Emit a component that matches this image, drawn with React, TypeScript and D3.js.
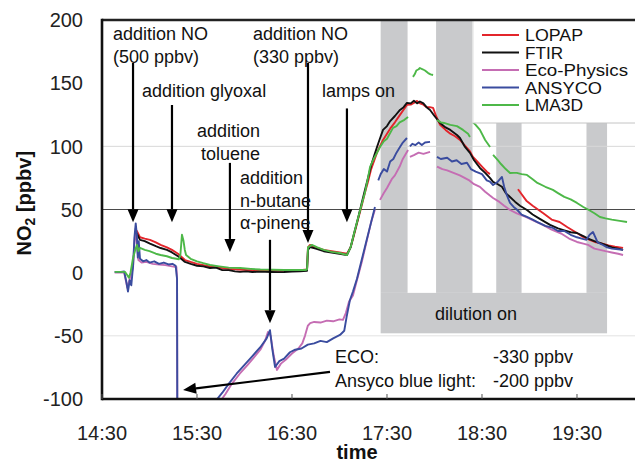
import * as d3 from 'd3';

const W = 635;
const H = 464;
const FONT = 'Liberation Sans, Arial, sans-serif';

// time axis in minutes after 14:30
const tickMinutes = [0, 60, 120, 180, 240, 300];
const tickLabels = ['14:30', '15:30', '16:30', '17:30', '18:30', '19:30'];
const yTicks = [-100, -50, 0, 50, 100, 150, 200];

type P = [number, number] | null;

const lopap: P[] = [
  [20.8, 31], [22, 33], [24, 28], [27, 27], [30.3, 26], [34, 24], [37, 22], [41, 20], [44.2, 18], [48, 15], [52.4, 10],
  [56, 8.5], [60, 7], [64, 6], [68.2, 5], [74, 4], [80, 3], [86, 2.5], [92, 2], [98, 2], [103, 1.5], [110, 1.5],
  [115, 1.5], [120, 2], [125, 2], [129.5, 2.5], [130.1, 20], [131.4, 22], [135, 20], [140, 18], [145, 17], [150, 16],
  [154.7, 15], [157, 20], [159, 29], [161.7, 42], [164, 53], [166, 63], [168, 72], [170, 82], [172, 89], [173.7, 95],
  [175.5, 100], [177.5, 105], [180, 110], [182, 114], [185, 119], [188.2, 124.9], [190.5, 129], [192.6, 132.8],
  [195, 133], [197, 134.4], [199, 136], [200.8, 134], [203, 133], [205, 131], [207, 131], [209.1, 130.4], [211, 124],
  [213.5, 117], [217, 113], [220, 110], [223, 108], [226.1, 105.1], [229, 101], [232.4, 96], [234.3, 91.6], [237, 88],
  [240, 84], [243.2, 79.7], [245, 78],
  null,
  [262.7, 66], [264, 63.9], [268, 57], [272, 53], [278.5, 47.3], [284, 42], [289, 40.1], [294, 36], [300, 31.4],
  [303.8, 28.3], [308, 26], [312, 24], [316, 23], [320, 21.5], [324, 20.5], [329.1, 19.6],
];

const ftir: P[] = [
  [20.8, 29], [22, 31], [24, 26], [27, 25], [30.3, 23], [34, 21], [37, 19.5], [41, 18], [44.2, 16], [48, 13], [50, 11],
  [52.4, 8.5], [56, 7], [60, 5.5], [64, 5], [68.2, 3.7], [72, 4], [76, 2], [80, 2], [84, 1], [87.2, 0.6], [91, 1],
  [95, 0.5], [99, 0.8], [103, 0.6], [107, 0.5], [111, 0.4], [115, 0.5], [120, 0.8], [125, 1], [129.5, 1.5], [130.1, 18],
  [131.4, 20.3], [135, 19], [140, 17], [145, 16], [150, 15], [154.7, 14], [157, 20], [159, 30], [161.7, 43], [164, 55],
  [166, 65], [168, 75], [170, 85], [172, 93], [173.7, 99.5], [175.5, 106], [177.5, 113], [180, 116], [182, 120],
  [185, 124], [188.2, 128.8], [190.5, 131], [192.6, 134.4], [195, 134], [197, 136], [199, 134], [200.8, 135.5],
  [203, 134], [205, 131], [207.2, 128.8], [210, 124], [213.5, 118.5], [217, 115], [220, 113], [224.2, 109],
  [226.1, 106.6], [229, 100], [232.4, 94.8], [235, 89], [238.7, 82.9], [242, 79], [245, 75], [247, 71.8], [250, 70],
  [252.6, 68], [255, 63], [257.7, 59.9], [261, 56], [264, 53], [268.4, 49.6], [272, 46], [276, 43], [280, 40],
  [283, 37.8], [288, 35], [292, 33.5], [296, 32], [300, 31.4], [304, 29], [307, 27], [311, 25], [314.5, 23.5],
  [318, 22], [322, 20], [326, 19], [329.1, 18],
];

const ecoPhysics: P[] = [
  [8, 0], [12, 0], [14, 0], [16, -12], [17.5, -5], [19.6, 4], [20.5, 25], [21.3, 35], [22.2, 20], [23, 10], [25, 8],
  [28, 8.5], [32, 7], [36, 6.5], [40, 6], [44.2, 5], [47, 4.5], [47.4, -5], [47.6, -130],
  null,
  [74, -103], [78, -96], [82, -88], [87, -80], [92, -73], [96, -67], [100, -61], [103, -54], [104.8, -47], [106.5, -50],
  [108.5, -66], [110.5, -77], [113, -72], [116, -69], [120, -64], [124, -60], [126.5, -56], [128.2, -50], [130, -42],
  [131.5, -40], [134, -39], [138, -39.5], [142, -38], [146, -38.5], [150, -37], [152.2, -37.4], [154, -32], [156, -23],
  [158.5, -18], [161, -6], [164, 8], [167, 24], [170, 40], [172.4, 50],
  null,
  [175.6, 57.6], [178, 63], [180, 67], [183, 74], [185, 77], [188, 84], [190, 90], [193.3, 97.1],
  null,
  [194.5, 91.6], [197, 93], [200, 95], [203, 94], [207.2, 95.6],
  null,
  [211.6, 84], [215, 82], [218, 81], [222, 79], [226, 77], [229, 75], [232, 73], [235, 70], [238.7, 67.9], [242, 64],
  [245, 61], [247, 59.1], [251, 56], [254, 53], [257.7, 49.6], [262, 47], [268, 44], [273, 41], [278.5, 37.8],
  [284, 34], [290, 31], [295, 27], [300, 24.3], [304, 23], [307, 22], [311, 19], [314.5, 18], [318, 17], [322, 16],
  [326, 15], [329.1, 14],
];

const ansyco: P[] = [
  [8, 0.6], [12, 0.5], [14, 1], [15.5, -8], [16.4, -15], [17.5, -6], [18.5, -10], [19.6, 5], [20.5, 28], [21.3, 39],
  [22, 30], [22.6, 12], [23.2, 25], [24, 11], [26, 9], [28, 10], [30, 8], [33, 9], [36, 7], [39, 8], [42, 6.5],
  [44.5, 7], [46.5, 5.5], [47.4, -5], [47.6, -130],
  null,
  [71.5, -102], [76, -95], [80, -88], [85, -80], [90, -73], [95, -66], [100, -59], [104, -52], [106.1, -45.5],
  [107.5, -60], [109.3, -74.7], [112, -70], [115, -68], [118.7, -63], [122, -61], [126, -60], [130, -57], [134, -56],
  [138, -54], [142, -55], [146, -52], [150.3, -49.3], [153, -46], [154.5, -35], [156.6, -21.6], [158.5, -15],
  [161, -5], [164, 10], [167, 25], [170, 40], [172.4, 52],
  null,
  [174.5, 73], [176, 78], [178, 82], [180, 80], [182, 88], [184, 90], [186, 95], [188, 99], [190, 103], [192.6, 106.6],
  null,
  [194.5, 100], [196, 102], [198, 101], [200, 103], [202, 101], [204, 103], [207.2, 103.5],
  null,
  [211.6, 91.6], [214, 90], [218, 91], [221, 88], [224, 89], [227, 86], [230.5, 87], [233, 82], [236, 80], [240, 78],
  [243, 73], [245, 72], [247, 69.4], [250, 72], [252.6, 75.8], [254, 68], [255.5, 62], [257.7, 55.2], [260, 52],
  [262, 50], [265, 46], [268.4, 44.1], [272, 42], [275, 40], [280, 37], [284.8, 35.4], [288, 33], [292, 33], [296, 30],
  [300, 28], [303, 27], [306, 26], [308, 30], [310.1, 32.2], [312, 27], [313, 24], [316.4, 21.9], [319, 20], [322, 19],
  [326, 18.5], [329.1, 18],
];

const lma3d: P[] = [
  [8, 0.6], [12, 0.6], [14.5, 0.6], [16, -2], [17, -4], [18, 0], [19.6, 11.6], [21, 18], [22.1, 22], [23, 17],
  [24, 19.6], [27, 18], [30, 17], [34, 15], [37, 14], [41, 13], [44.2, 11.6], [47, 11], [48.5, 10.5], [49.5, 14],
  [50.5, 30], [51.5, 25], [52.3, 18], [53.1, 14], [56, 11], [60, 9], [64, 7.5], [68.2, 6.1], [74, 5], [80, 4],
  [87.2, 3.7], [94, 3], [100, 2.5], [108, 2.3], [115, 2.1], [122, 2.1], [128.2, 2.1], [129.5, 2.5], [130.1, 20],
  [132.6, 22], [136, 20], [140, 18], [145, 16.5], [150, 15.6], [154.7, 14], [157, 20], [159, 30], [161.7, 43],
  [164, 54], [166, 63], [168, 75], [169.3, 83.7], [172, 91], [175.6, 99.5], [178, 104], [180, 106], [183.8, 114.6],
  [186, 116], [188, 119], [191, 121], [193.3, 123.3],
  null,
  [196.4, 155], [197.5, 157], [198.5, 160], [200, 161], [200.8, 162], [202.5, 161], [204, 160], [206, 158],
  [207.5, 157], [209.1, 156.5],
  null,
  [211.6, 120.9], [214, 119], [216, 118.5], [220, 117], [224.2, 116], [228, 113], [231.2, 110], [232.4, 107.4],
  null,
  [234.3, 119], [236, 117], [238.7, 113], [242, 105], [245.1, 99.5],
  null,
  [247, 93.2], [250, 89], [252, 86], [255, 82], [257.7, 78.9], [260, 79], [262, 79], [265, 78], [268.4, 77.4],
  [272, 74], [275, 71], [280, 68], [284.8, 65.5], [288, 63], [292, 60], [296, 58], [300, 55.2], [304, 52], [307, 50],
  [311, 47], [314.5, 44.1], [318, 43], [322, 42], [327, 41], [331.6, 40.1],
];

// dilution periods [start, end] in minutes after 14:30
const dilutionPeriods = [[176, 193], [211, 234], [249, 265], [306, 319]];
const dilutionBand = [-16, -48];

const series = [
  { name: 'LOPAP', color: '#e3252b', data: lopap, w: 58 },
  { name: 'FTIR', color: '#111111', data: ftir, w: 38 },
  { name: 'Eco-Physics', color: '#c56db3', data: ecoPhysics, w: 103 },
  { name: 'ANSYCO', color: '#3a4c9f', data: ansyco, w: 77 },
  { name: 'LMA3D', color: '#4db848', data: lma3d, w: 58 },
];
const drawOrder = ['LOPAP', 'FTIR', 'Eco-Physics', 'ANSYCO', 'LMA3D'];

// annotation texts: [minutes, ppbv, label]
const notes: [number, number, string][] = [
  [6.9, 184.3, 'addition NO'],
  [6.9, 166, '(500 ppbv)'],
  [25.3, 139.1, 'addition glyoxal'],
  [60, 107.4, 'addition'],
  [62.5, 89.2, 'toluene'],
  [87.2, 70.2, 'addition'],
  [87.2, 52, 'n-butane'],
  [87.2, 34.6, 'α-pinene'],
  [95.4, 184.3, 'addition NO'],
  [95.4, 166, '(330 ppbv)'],
  [138.9, 139.1, 'lamps on'],
  [210.3, -37.4, 'dilution on'],
  [147.1, -71.4, 'ECO:'],
  [246.9, -71.4, '-330 ppbv'],
  [147.1, -90.4, 'Ansyco blue light:'],
  [246.9, -90.4, '-200 ppbv'],
];

// arrows: [from minutes, from ppbv, to minutes, to ppbv]
const arrows: [number, number, number, number][] = [
  [19.6, 166, 19.6, 40],
  [44.2, 132.7, 44.2, 40],
  [80.8, 86.9, 80.8, 16.4],
  [106.1, 26, 106.1, -40],
  [130.1, 166, 130.1, 23.5],
  [154.7, 130, 154.7, 40],
  [144, -78.6, 51.2, -92.8],
];

const x = d3.scaleLinear().domain([0, 335]).range([102, 632.4]);
const y = d3.scaleLinear().domain([-100, 200]).range([399, 20]);

const line = d3
  .line<P>()
  .defined((d) => d != null)
  .x((d) => x((d as [number, number])[0]))
  .y((d) => y((d as [number, number])[1]));

function Arrow({ a }: { a: [number, number, number, number] }) {
  const x1 = x(a[0]), y1 = y(a[1]), x2 = x(a[2]), y2 = y(a[3]);
  const ang = Math.atan2(y2 - y1, x2 - x1);
  const len = 13, hw = 5.5;
  const bx = x2 - Math.cos(ang) * len;
  const by = y2 - Math.sin(ang) * len;
  const px = -Math.sin(ang) * hw, py = Math.cos(ang) * hw;
  return (
    <g>
      <line x1={x1} y1={y1} x2={bx} y2={by} stroke="#000" strokeWidth={2.2} />
      <polygon points={`${x2},${y2} ${bx + px},${by + py} ${bx - px},${by - py}`} fill="#000" />
    </g>
  );
}

export default function App() {
  const [x0, x1] = x.range();
  const [yb, yt] = y.range();
  const legendX = 473;
  const legendBottom = 123;
  return (
    <svg
      width={W}
      height={H}
      style={{ position: 'fixed', left: 0, top: 0, background: '#fff' }}
      fontFamily={FONT}
    >
      <defs>
        <clipPath id="plot">
          <rect x={x0} y={yt} width={x1 - x0 + 5} height={yb - yt} />
        </clipPath>
      </defs>
      <rect width={W} height={H} fill="#fff" />

      {/* dilution shading */}
      <g fill="#c9cacc">
        {dilutionPeriods.map((p, i) => (
          <rect key={i} x={x(p[0])} y={yt} width={x(p[1]) - x(p[0])} height={y(dilutionBand[0]) - yt} />
        ))}
        <rect
          x={x(dilutionPeriods[0][0])}
          y={y(dilutionBand[0])}
          width={x(dilutionPeriods[3][1]) - x(dilutionPeriods[0][0])}
          height={y(dilutionBand[1]) - y(dilutionBand[0])}
        />
      </g>

      {/* grid */}
      <line x1={x0} x2={W} y1={y(100)} y2={y(100)} stroke="#d8d8d8" strokeWidth={1} />
      <line x1={x0} x2={W} y1={y(-50)} y2={y(-50)} stroke="#e2e2e2" strokeWidth={1} />
      <line x1={x0} x2={W} y1={y(50)} y2={y(50)} stroke="#4a4a4a" strokeWidth={1} />

      {/* series */}
      <g clipPath="url(#plot)" fill="none" strokeWidth={1.9} strokeLinejoin="round">
        {drawOrder.map((n) => {
          const s = series.find((d) => d.name === n)!;
          return <path key={n} d={line(s.data) || ''} stroke={s.color} />;
        })}
      </g>

      {/* legend */}
      <rect x={legendX} y={yt} width={W - legendX} height={legendBottom - yt} fill="#fff" />
      <line x1={legendX} x2={W} y1={legendBottom} y2={legendBottom} stroke="#c4c4c4" />
      <line x1={legendX} x2={legendX} y1={yt} y2={legendBottom} stroke="#e0e0e0" />
      {series.map((s, i) => {
        const ly = 35 + i * 17.5;
        return (
          <g key={s.name}>
            <line x1={482} x2={519} y1={ly} y2={ly} stroke={s.color} strokeWidth={2.2} />
            <text
              x={525}
              y={ly + 6}
              fontSize={16}
              textLength={s.w}
              lengthAdjust="spacingAndGlyphs"
              fill="#111"
            >
              {s.name}
            </text>
          </g>
        );
      })}

      {/* frame */}
      <line x1={x0} x2={W} y1={yt} y2={yt} stroke="#222" strokeWidth={2.6} />
      <line x1={x0} x2={W} y1={yb} y2={yb} stroke="#111" strokeWidth={2.6} />
      <line x1={x0} x2={x0} y1={yt - 1.3} y2={yb + 1.3} stroke="#111" strokeWidth={2.6} />
      {tickMinutes.map((t) => (
        <line key={t} x1={x(t)} x2={x(t)} y1={yb} y2={yb - 5} stroke="#555" strokeWidth={1} />
      ))}

      {/* tick labels */}
      {yTicks.map((v) => (
        <text key={v} x={83} y={y(v)} dy="0.36em" textAnchor="end" fontSize={20} fill="#222">
          {v}
        </text>
      ))}
      {tickMinutes.map((t, i) => (
        <text key={t} x={x(t)} y={440} textAnchor="middle" fontSize={20} fill="#222">
          {tickLabels[i]}
        </text>
      ))}

      {/* axis titles */}
      <text transform={`translate(31,${y(55)}) rotate(-90)`} textAnchor="middle" fontSize={20} fontWeight="bold" fill="#111">
        NO<tspan fontSize={14} dy={4}>2</tspan>
        <tspan dy={-4}> [ppbv]</tspan>
      </text>
      <text x={357} y={459} textAnchor="middle" fontSize={20} fontWeight="bold" fill="#111">
        time
      </text>

      {/* annotations */}
      {arrows.map((a, i) => (
        <Arrow key={i} a={a} />
      ))}
      {notes.map((n, i) => (
        <text key={i} x={x(n[0])} y={y(n[1])} fontSize={18} fill="#111">
          {n[2]}
        </text>
      ))}
    </svg>
  );
}
